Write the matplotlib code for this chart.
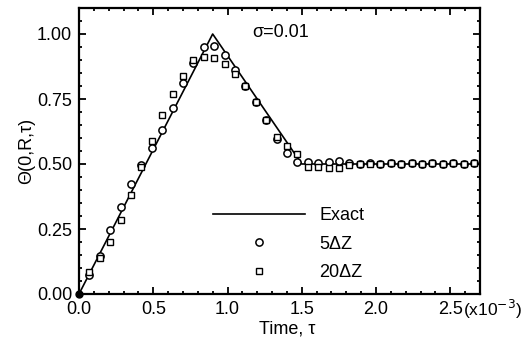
import numpy as np
import matplotlib.pyplot as plt
from matplotlib.ticker import MultipleLocator

plt.rcParams['font.family'] = ['Liberation Sans', 'DejaVu Sans']
plt.rcParams['mathtext.fontset'] = 'custom'

## the data (time in units of 1e-3)
exact_t = [0.0, 0.9, 1.5, 2.7]
exact_y = [0.0, 1.0, 0.5, 0.5]

t_pts = [0.07 * k for k in range(1, 39)]
dz5 = [0.073, 0.147, 0.247, 0.336, 0.425, 0.498, 0.56, 0.63, 0.714, 0.81,
       0.89, 0.95, 0.953, 0.92, 0.86, 0.80, 0.737, 0.668, 0.598, 0.544,
       0.506, 0.506, 0.502, 0.506, 0.51, 0.502, 0.50, 0.502, 0.50, 0.502,
       0.50, 0.502, 0.50, 0.502, 0.50, 0.502, 0.50, 0.502]
dz20 = [0.085, 0.139, 0.20, 0.286, 0.382, 0.487, 0.59, 0.687, 0.77, 0.84,
        0.90, 0.91, 0.907, 0.884, 0.845, 0.80, 0.737, 0.668, 0.605, 0.568,
        0.537, 0.49, 0.49, 0.486, 0.486, 0.495, 0.50, 0.50, 0.50, 0.502,
        0.50, 0.502, 0.50, 0.502, 0.50, 0.502, 0.50, 0.502]

fig = plt.figure(figsize=(5.29, 3.44), dpi=100)
ax = fig.add_axes([79/529, 1-294/344, 401/529, 286/344])

ax.plot(exact_t, exact_y, color='black', lw=1.2, label='Exact')
ax.plot(t_pts, dz5, ls='none', marker='o', ms=5.2, mfc='white', mec='black',
        mew=1.1, label='5\u0394Z')
ax.plot(t_pts, dz20, ls='none', marker='s', ms=3.8, mfc='white', mec='black',
        mew=1.0, label='20\u0394Z')
# start point
ax.plot([0], [0], marker='o', ms=5, color='black', clip_on=False)

ax.set_xlim(0, 2.7)
ax.set_ylim(0, 1.1)
ax.xaxis.set_major_locator(MultipleLocator(0.5))
ax.xaxis.set_minor_locator(MultipleLocator(0.1))
ax.yaxis.set_major_locator(MultipleLocator(0.25))
ax.yaxis.set_minor_locator(MultipleLocator(0.05))
ax.set_xticks([0, 0.5, 1.0, 1.5, 2.0, 2.5])
ax.set_xticklabels(['0.0', '0.5', '1.0', '1.5', '2.0', '2.5'])
ax.set_yticks([0, 0.25, 0.5, 0.75, 1.0])
ax.set_yticklabels(['0.00', '0.25', '0.50', '0.75', '1.00'])
ax.tick_params(which='both', direction='in', top=True, right=True,
               labelsize=13, width=1.3)
ax.tick_params(which='major', length=5, pad=5)
ax.tick_params(which='minor', length=2.5)
for s in ax.spines.values():
    s.set_linewidth(1.6)

ax.set_xlabel('Time, \u03c4', fontsize=13)
ax.xaxis.set_label_coords(0.52, -0.094)
ax.set_ylabel('\u0398(0,R,\u03c4)', fontsize=13, labelpad=1)

ax.text(0.431, 0.916, '\u03c3=0.01', transform=ax.transAxes, fontsize=13,
        va='center', ha='left')
fig.text(463/529, 1-309/344, '(x10$^{-3}$)', fontsize=12.5, va='center', ha='left')

ax.legend(loc='upper left', bbox_to_anchor=(213/529, 1-207/344),
          bbox_transform=fig.transFigure, frameon=False, fontsize=13,
          numpoints=1, handlelength=5.1, handletextpad=0.8, labelspacing=0.64,
          borderpad=0, borderaxespad=0)

fig.savefig('out.png', dpi=100)
